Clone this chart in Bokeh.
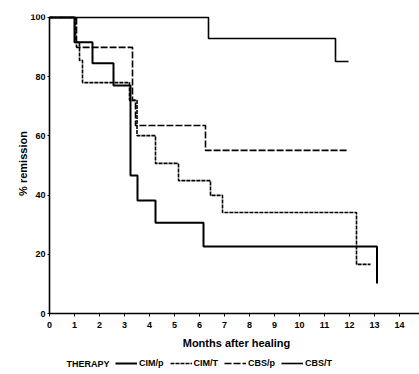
import math
from bokeh.plotting import figure
from bokeh.models import Range1d, Legend, LegendItem, FixedTicker, Label
from bokeh.embed import file_html
from bokeh.resources import INLINE

# ---- data ----
therapies = ["CIM/p", "CIM/T", "CBS/p", "CBS/T"]

cim_p_t = [0, 1.0, 1.72, 2.56, 3.24, 3.52, 4.24, 6.16, 13.1]
cim_p_s = [100, 91.6, 84.5, 77.0, 46.6, 38.2, 30.7, 22.6, 10.1]

cim_t_t = [0, 1.04, 1.2, 1.32, 3.2, 3.5, 4.24, 5.16, 6.44, 6.92, 12.28, 12.84]
cim_t_s = [100, 91.6, 85.5, 78.0, 72.0, 60.1, 50.7, 44.9, 39.9, 34.1, 16.6, 16.6]

cbs_p_t = [0, 1.08, 3.32, 3.44, 6.24, 11.96]
cbs_p_s = [100, 89.9, 72.0, 63.5, 55.1, 55.1]

cbs_t_t = [0, 6.36, 11.44, 11.96]
cbs_t_s = [100, 92.9, 85.1, 85.1]

x_ticks = list(range(0, 15))
y_ticks = [0, 20, 40, 60, 80, 100]

FONT = "Liberation Sans"

p = figure(width=419, height=374, output_backend="svg", toolbar_location=None,
           x_range=Range1d(-1.96, 14.8), y_range=Range1d(-20.6, 101),
           min_border_left=0, min_border_right=0, min_border_top=14,
           min_border_bottom=0)
p.outline_line_color = None
p.grid.grid_line_color = None
p.background_fill_color = "white"
p.border_fill_color = "white"

r_a = p.step(cim_p_t, cim_p_s, mode="after", line_color="black", line_width=2)
r_c = p.step(cim_t_t, cim_t_s, mode="after", line_color="black", line_width=1.6,
             line_dash="4 1")
r_b = p.step(cbs_p_t, cbs_p_s, mode="after", line_color="black", line_width=1.6,
             line_dash="7 2")
r_d = p.step(cbs_t_t, cbs_t_s, mode="after", line_color="black", line_width=1.6)

for ax in (p.xaxis, p.yaxis):
    ax.axis_line_color = "black"
    ax.axis_line_width = 1.6
    ax.major_tick_in = 0
    ax.minor_tick_line_color = None
    ax.major_label_text_font = FONT
    ax.major_label_text_font_style = "bold"
    ax.major_label_text_font_size = "9px"
    ax.major_label_text_color = "black"

p.xaxis.ticker = FixedTicker(ticks=x_ticks)
p.yaxis.ticker = FixedTicker(ticks=y_ticks)
p.xaxis.fixed_location = 0
p.yaxis.fixed_location = 0
p.xaxis.bounds = (0, 14.8)
p.yaxis.bounds = (0, 100)
p.xaxis.major_tick_out = 3
p.yaxis.major_tick_out = 2
p.xaxis.major_label_standoff = 5
p.yaxis.major_label_standoff = 2

p.add_layout(Label(x=7.48, y=32, x_units="data", y_units="screen",
                   text="Months after healing", text_font=FONT,
                   text_font_style="bold", text_font_size="11px",
                   text_align="center", text_baseline="middle",
                   text_color="black"))
p.add_layout(Label(x=22, y=211, x_units="screen", y_units="screen",
                   text="% remission", text_font=FONT, angle=math.pi / 2,
                   text_font_style="bold", text_font_size="11px",
                   text_align="center", text_baseline="middle",
                   text_color="black"))

legend = Legend(items=[LegendItem(label=therapies[0], renderers=[r_a]),
                       LegendItem(label=therapies[1], renderers=[r_c]),
                       LegendItem(label=therapies[2], renderers=[r_b]),
                       LegendItem(label=therapies[3], renderers=[r_d])],
                orientation="horizontal", location=(115, 5),
                glyph_width=22, glyph_height=12, label_height=12,
                label_standoff=2, spacing=6, padding=0, margin=0,
                border_line_alpha=0, background_fill_alpha=0,
                label_text_font=FONT, label_text_font_style="bold",
                label_text_font_size="9px", label_text_color="black")
p.add_layout(legend, "center")

p.add_layout(Label(x=66, y=11, x_units="screen", y_units="screen",
                   text="THERAPY", text_font=FONT, text_font_style="bold",
                   text_font_size="9px", text_baseline="middle",
                   text_color="black"))

open("out.html", "w").write(file_html(p, INLINE))
